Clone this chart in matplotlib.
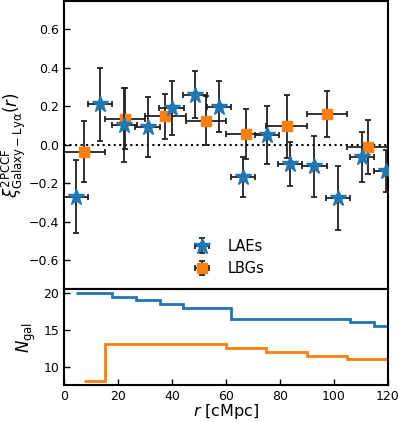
import numpy as np
import matplotlib
matplotlib.use("Agg")
import matplotlib.pyplot as plt

# ── Data ──────────────────────────────────────────────────────────────────────
lae_r    = np.array([4.3, 13.25, 22.3, 30.9, 39.8, 48.5, 57.5, 66.2, 75.1, 83.75, 92.8, 101.4, 110.35, 119.3])
lae_xerr = np.array([4.4, 4.5, 4.5, 4.5, 4.5, 4.5, 4.5, 4.5, 4.5, 4.5, 4.5, 4.5, 4.5, 4.5])
lae_xi   = np.array([-0.269, 0.211, 0.104, 0.095, 0.192, 0.260, 0.199, -0.165, 0.052, -0.099, -0.111, -0.275, -0.064, -0.134])
lae_yerr = np.array([0.19, 0.19, 0.19, 0.155, 0.14, 0.122, 0.133, 0.104, 0.15, 0.113, 0.16, 0.167, 0.13, 0.11])
lae_ngal = np.array([20, 20, 19.5, 19, 18.5, 18, 18, 16.5, 16.5, 16.5, 16.5, 16.5, 16, 15.5])

lbg_r    = np.array([7.5, 22.5, 37.5, 52.5, 67.5, 82.5, 97.5, 112.5])
lbg_xerr = np.array([7.5, 7.5, 7.5, 7.5, 7.5, 7.5, 7.5, 7.5])
lbg_xi   = np.array([-0.035, 0.137, 0.149, 0.126, 0.059, 0.097, 0.159, -0.009])
lbg_yerr = np.array([0.16, 0.16, 0.116, 0.128, 0.13, 0.163, 0.12, 0.14])
lbg_ngal = np.array([8, 13, 13, 13, 12.5, 12, 11.5, 11])

RMAX = 120

# ── Figure ────────────────────────────────────────────────────────────────────
fig = plt.figure(figsize=(3.99, 4.22), dpi=100)
ax  = fig.add_axes([0.161, 0.3145, 0.811, 0.684])
ax2 = fig.add_axes([0.161, 0.0877, 0.811, 0.2268], sharex=ax)

eb_kw = dict(ls="none", ecolor="#222222", elinewidth=1.3, capsize=2.2, capthick=1.3)
ax.errorbar(lae_r, lae_xi, xerr=lae_xerr, yerr=lae_yerr, marker="*", ms=12,
            color="#1f77b4", label="LAEs", zorder=3, **eb_kw)
ax.errorbar(lbg_r, lbg_xi, xerr=lbg_xerr, yerr=lbg_yerr, marker="s", ms=6.5,
            color="#ff7f0e", label="LBGs", zorder=2, **eb_kw)
ax.axhline(0, color="k", ls=":", lw=1.5, zorder=1)

ax.set_ylim(-0.75, 0.75)
ax.set_yticks([-0.6, -0.4, -0.2, 0.0, 0.2, 0.4, 0.6])
ax.set_ylabel(r"$\xi^{\rm 2PCCF}_{\rm Galaxy-Ly\alpha}(r)$", fontsize=12, labelpad=1)
ax.legend(loc="lower center", frameon=False, fontsize=10.5, handletextpad=0.8,
          bbox_to_anchor=(0.5, 0.0))
ax.tick_params(axis="x", which="both", bottom=False, labelbottom=False)

# N_gal step lines, edges from bin centres out to the plot edge
def stair_edges(r):
    return np.concatenate([[r[0]], (r[1:] + r[:-1]) / 2, [RMAX]])

ax2.stairs(lae_ngal, stair_edges(lae_r), color="#1f77b4", lw=2, baseline=None)
ax2.stairs(lbg_ngal, stair_edges(lbg_r), color="#ff7f0e", lw=2, baseline=None)
ax2.set_ylim(7.5, 20.5)
ax2.set_yticks([10, 15, 20])
ax2.set_xlim(0, RMAX)
ax2.set_xticks([0, 20, 40, 60, 80, 100, 120])
ax2.set_ylabel(r"$N_{\rm gal}$", fontsize=12, labelpad=4)
ax2.set_xlabel(r"$r$ [cMpc]", fontsize=11.5, labelpad=-0.5)

for a in (ax, ax2):
    a.tick_params(direction="in", labelsize=9, width=1, length=4)
    for s in a.spines.values():
        s.set_linewidth(1.5)

fig.savefig("out.png", dpi=100)
